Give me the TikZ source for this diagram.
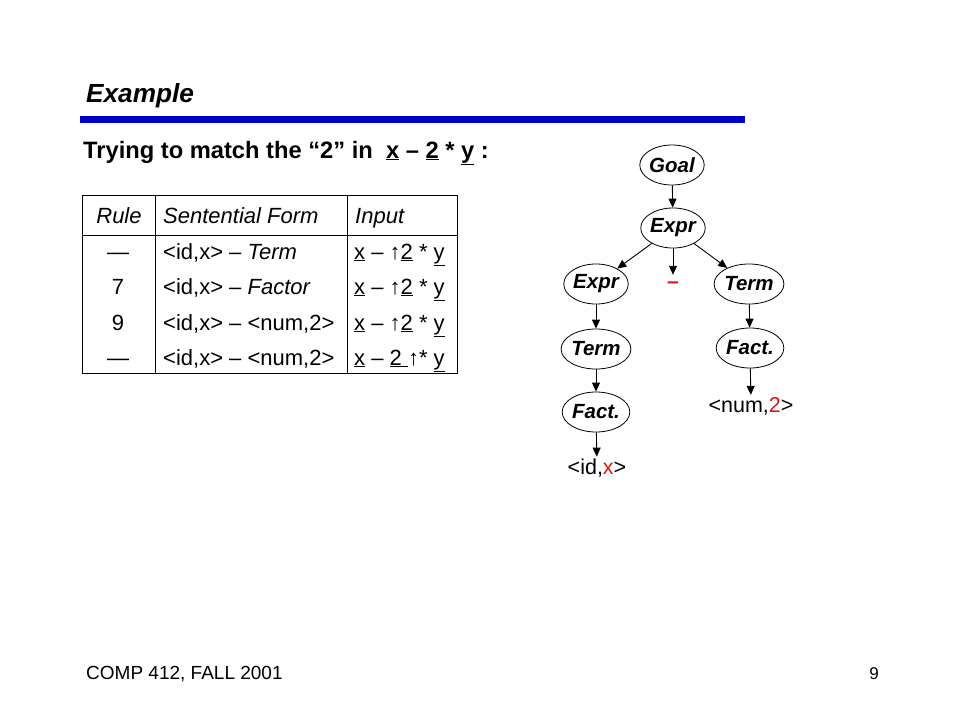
\documentclass[tikz,border=0pt]{standalone}
\usepackage{fontspec}
\setmainfont{Liberation Sans}
\usetikzlibrary{shapes.geometric,arrows.meta}
\definecolor{barblue}{RGB}{0,0,200}
\definecolor{minred}{RGB}{225,20,20}
\newcommand{\fs}[1]{\fontsize{#1}{#1}\selectfont}
\begin{document}
\begin{tikzpicture}[x=1pt,y=-1pt,
  tn/.style={ellipse,draw,line width=0.8pt,minimum width=57pt,minimum height=40pt,inner sep=0pt,font=\fs{20.5}\bfseries\itshape},
  lf/.style={inner sep=2pt,font=\fs{21.5}},
  arr/.style={-{Triangle[length=9pt,width=8pt]},line width=0.9pt},
  tl/.style={line width=1pt},
  tc/.style={anchor=base west,inner sep=0pt,font=\fs{22}},
  tm/.style={anchor=base,inner sep=0pt,font=\fs{22}}]
\useasboundingbox (0,0) rectangle (960,720);
% title
\node[anchor=base west,inner sep=0pt,font=\fs{26.2}\bfseries\itshape] (title) at (86,102) {Example};
\fill[barblue] (80,116) rectangle (745,123);
\node[anchor=base west,inner sep=0pt,font=\fs{23.7}\bfseries] (sub) at (83,158)
  {Trying to match the “2” in \ \underline{x} – \underline{2} * \underline{y} :};
% table
\draw[tl] (82,195) rectangle (457,373);
\draw[tl] (155,195) -- (155,373);
\draw[tl] (347,195) -- (347,373);
\draw[tl] (82,235) -- (457,235);
\node[tm,font=\fs{22}\itshape] (h1) at (119,223) {Rule};
\node[tc,font=\fs{22}\itshape] (h2) at (163,223) {Sentential Form};
\node[tc,font=\fs{22}\itshape] (h3) at (355,223) {Input};
\node[tm] (r1a) at (118,259) {—};
\node[tc] (r1b) at (163,259) {<id,x> – \textit{Term}};
\node[tc] (r1c) at (354,259) {\underline{x} – ↑\underline{2} * \underline{y}};
\node[tm] (r2a) at (118,294) {7};
\node[tc] (r2b) at (163,294) {<id,x> – \textit{Factor}};
\node[tc] (r2c) at (354,294) {\underline{x} – ↑\underline{2} * \underline{y}};
\node[tm] (r3a) at (118,330) {9};
\node[tc] (r3b) at (163,330) {<id,x> – <num,2>};
\node[tc] (r3c) at (354,330) {\underline{x} – ↑\underline{2} * \underline{y}};
\node[tm] (r4a) at (118,365) {—};
\node[tc] (r4b) at (163,365) {<id,x> – <num,2>};
\node[tc] (r4c) at (354,365) {\underline{x} – \underline{2 }↑* \underline{y}};
% tree
\node[tn] (goal) at (672,165) {Goal};
\node[tn] (expr) at (673,228) {Expr};
\node[tn] (exprl) at (596,284) {Expr};
\node[inner sep=0pt,minimum height=20pt,font=\fs{21}\bfseries,text=minred] (minus) at (673,285) {–};
\node[tn] (termr) at (749,284) {Term};
\node[tn] (terml) at (596,349) {Term};
\node[tn] (factr) at (750,348) {Fact.};
\node[tn] (factl) at (596,412) {Fact.};
\node[lf] (idx) at (597,468) {<id,\textcolor{minred}{x}>};
\node[lf] (num) at (751,406) {<num,\textcolor{minred}{2}>};
\draw[arr] (goal) -- (expr);
\draw[arr] (expr) -- (exprl);
\draw[arr] (expr.south) -- (minus.north);
\draw[arr] (expr) -- (termr);
\draw[arr] (exprl) -- (terml);
\draw[arr] (terml) -- (factl);
\draw[arr] (factl) -- (idx);
\draw[arr] (termr) -- (factr);
\draw[arr] (factr) -- (num);
% footer
\node[anchor=base west,inner sep=0pt,font=\fs{19}] (foot) at (86,679) {COMP 412, FALL 2001};
\node[anchor=base east,inner sep=0pt,font=\fs{17}] (page) at (879,679) {9};
\end{tikzpicture}
\end{document}
